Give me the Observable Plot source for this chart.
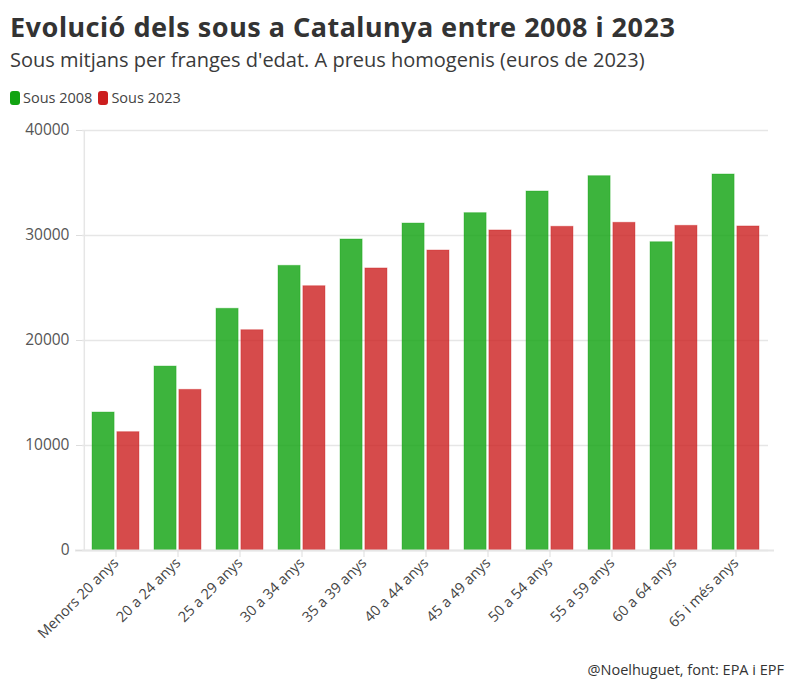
<!DOCTYPE html>
<html>
<head>
<meta charset="utf-8">
<script src="https://cdn.jsdelivr.net/npm/d3@7"></script>
<script src="https://cdn.jsdelivr.net/npm/@observablehq/plot@0.6"></script>
<style>
  html, body { margin: 0; padding: 0; background: #fff; }
  body { width: 794px; height: 690px; position: relative; overflow: hidden; font-family: "Open Sans", "Noto Sans", sans-serif; color: #333; }
  #title { position: absolute; left: 10px; top: 8px; font-family: "Noto Sans", "Open Sans", sans-serif; font-size: 27px; font-weight: 700; letter-spacing: 0.5px; color: #333; white-space: nowrap; }
  #subtitle { position: absolute; left: 10px; top: 46px; font-size: 20px; color: #3a3a3a; white-space: nowrap; }
  #legend { position: absolute; left: 10px; top: 88px; font-size: 14.5px; color: #444; display: flex; gap: 6px; }
  #legend span.item { display: flex; align-items: center; }
  #legend span.sw { display: inline-block; width: 10px; height: 14px; border-radius: 3px; margin-right: 3px; }
  #chart { position: absolute; left: 0; top: 112px; }
  #footer { position: absolute; right: 10px; top: 660px; font-size: 14.5px; color: #333; white-space: nowrap; }
  #chart g[aria-label="y-axis tick"] path, #chart g[aria-label="x-axis tick"] path { stroke: #dddddd; }
</style>
</head>
<body>
<div id="title">Evolució dels sous a Catalunya entre 2008 i 2023</div>
<div id="subtitle">Sous mitjans per franges d'edat. A preus homogenis (euros de 2023)</div>
<div id="legend"></div>
<div id="chart"></div>
<div id="footer">@Noelhuguet, font: EPA i EPF</div>
<script>
const ages = ["Menors 20 anys", "20 a 24 anys", "25 a 29 anys", "30 a 34 anys", "35 a 39 anys",
  "40 a 44 anys", "45 a 49 anys", "50 a 54 anys", "55 a 59 anys", "60 a 64 anys", "65 i més anys"];
const sous2008 = [13140, 17520, 23020, 27110, 29620, 31140, 32130, 34190, 35650, 29360, 35810];
const sous2023 = [11270, 15300, 20980, 25170, 26860, 28570, 30480, 30830, 31210, 30920, 30860];
const seriesNames = ["Sous 2008", "Sous 2023"];
const seriesColors = ["#12a312", "#cc1e1e"];
const yTicks = [0, 10000, 20000, 30000, 40000];

const data = [];
ages.forEach((a, i) => {
  data.push({age: a, serie: seriesNames[0], value: sous2008[i]});
  data.push({age: a, serie: seriesNames[1], value: sous2023[i]});
});

// legend
const leg = document.getElementById("legend");
seriesNames.forEach((s, i) => {
  const it = document.createElement("span");
  it.className = "item";
  it.innerHTML = `<span class="sw" style="background:${seriesColors[i]}"></span>${s}`;
  leg.appendChild(it);
});

const W = 794, mL = 82, mR = 26;
const pIn = 0.25, pOut = 0.125;
const step = (W - mL - mR) / (ages.length - pIn + 2 * pOut);
const bw = step * (1 - pIn);
const half = bw / 2 + 1.5;

const plot = Plot.plot({
  width: W,
  height: 543,
  marginTop: 18,
  marginBottom: 105,
  marginLeft: mL,
  marginRight: mR,
  style: {fontFamily: "'Open Sans', sans-serif", fontSize: "14px", color: "#555", background: "transparent"},
  x: {domain: ages, paddingInner: pIn, paddingOuter: pOut, label: null},
  y: {domain: [0, 40000], label: null},
  color: {domain: seriesNames, range: seriesColors},
  marks: [
    Plot.gridY(yTicks, {stroke: "#e6e6e6", strokeOpacity: 1, strokeWidth: 1.5}),
    Plot.ruleX([ages[0]], {dx: -(step * pOut + bw / 2) - 0.5, stroke: "#e6e6e6", strokeWidth: 1.5}),
    Plot.barY(data.filter(d => d.serie === seriesNames[0]), {
      x: "age", y: "value", fill: "serie", fillOpacity: 0.82,
      stroke: "serie", strokeOpacity: 0.35, strokeWidth: 1, insetRight: half
    }),
    Plot.barY(data.filter(d => d.serie === seriesNames[1]), {
      x: "age", y: "value", fill: "serie", fillOpacity: 0.8,
      stroke: "serie", strokeOpacity: 0.35, strokeWidth: 1, insetLeft: half
    }),
    Plot.ruleY([0], {stroke: "#e6e6e6", strokeWidth: 2, insetLeft: -7, insetRight: -6}),
    Plot.axisY(yTicks, {tickSize: 6, tickPadding: 7, tickFormat: d => String(d), fontSize: 15.5, fill: "#555"}),
    Plot.axisX({tickSize: 7, tickPadding: 3, tickRotate: -45, fontSize: 14.5, fill: "#444"})
  ]
});
document.getElementById("chart").appendChild(plot);
</script>
</body>
</html>
